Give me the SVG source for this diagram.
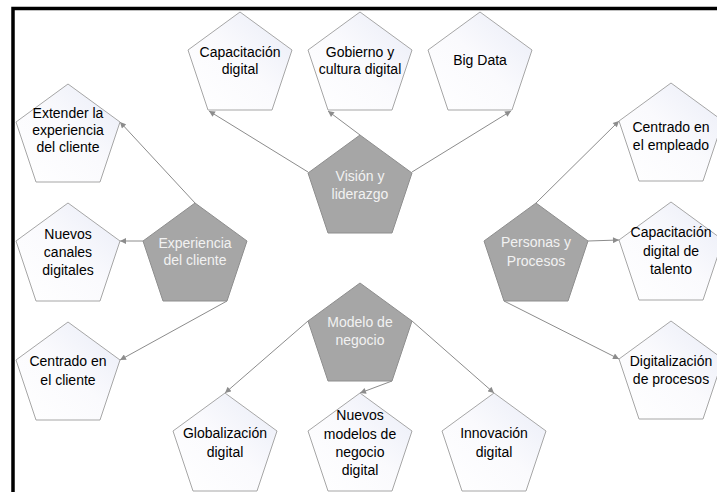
<svg xmlns="http://www.w3.org/2000/svg" xmlns:xlink="http://www.w3.org/1999/xlink" width="717" height="492" viewBox="0 0 717 492">
  <defs>
    <linearGradient id="lightGrad" x1="0" y1="1" x2="1" y2="0">
      <stop offset="0" stop-color="#FFFFFF"/>
      <stop offset="0.5" stop-color="#FAFAFD"/>
      <stop offset="1" stop-color="#E9ECF7"/>
    </linearGradient>
    <polygon id="pent" points="0,0 52,38 32,98 -32,98 -52,38"/>
    <marker id="arrow" viewBox="0 0 10 10" refX="10" refY="5" markerWidth="7" markerHeight="6" markerUnits="userSpaceOnUse" orient="auto">
      <path d="M0,0 L10,5 L0,10 Z" fill="#8C8C8C"/>
    </marker>
    <style>
      .light { fill: url(#lightGrad); stroke: #A6A6A6; stroke-width: 1; }
      .dark { fill: #A6A6A6; stroke: #8E8E8E; stroke-width: 1; }
      .t { font-family: "Liberation Sans", Arial, sans-serif; font-size: 14px; text-anchor: middle; fill: #000000; }
      .td { font-family: "Liberation Sans", Arial, sans-serif; font-size: 14px; text-anchor: middle; fill: #F2F2F2; }
      .conn line { stroke: #8C8C8C; stroke-width: 1; marker-end: url(#arrow); }
      .frame { fill: none; stroke: #000000; stroke-width: 3.5; }
    </style>
  </defs>
  <rect x="0" y="0" width="717" height="492" fill="#FFFFFF"/>
  <path class="frame" d="M13,495 V8.5 H720"/>

  <g id="connectors" class="conn">
    <line x1="308" y1="172" x2="209" y2="111"/>
    <line x1="360" y1="135" x2="328" y2="111"/>
    <line x1="412" y1="172" x2="511" y2="111"/>
    <line x1="195" y1="203" x2="120" y2="122"/>
    <line x1="143" y1="241" x2="120" y2="241"/>
    <line x1="227" y1="301" x2="120" y2="360"/>
    <line x1="308" y1="321" x2="225" y2="393"/>
    <line x1="392" y1="381" x2="360" y2="393"/>
    <line x1="412" y1="321" x2="494" y2="393"/>
    <line x1="536" y1="203" x2="619" y2="121"/>
    <line x1="588" y1="241" x2="619" y2="240"/>
    <line x1="504" y1="301" x2="619" y2="359"/>
  </g>

  <g id="capacitacion-digital">
    <use xlink:href="#pent" href="#pent" x="240" y="12" class="light"/>
    <text class="t" x="240" y="57">Capacitación</text>
    <text class="t" x="240" y="74">digital</text>
  </g>
  <g id="gobierno">
    <use xlink:href="#pent" href="#pent" x="360" y="12" class="light"/>
    <text class="t" x="360" y="57">Gobierno y</text>
    <text class="t" x="360" y="74">cultura digital</text>
  </g>
  <g id="big-data">
    <use xlink:href="#pent" href="#pent" x="480" y="12" class="light"/>
    <text class="t" x="480" y="65">Big Data</text>
  </g>
  <g id="vision">
    <use xlink:href="#pent" href="#pent" x="360" y="135" class="dark"/>
    <text class="td" x="360" y="181">Visión y</text>
    <text class="td" x="360" y="199">liderazgo</text>
  </g>

  <g id="extender">
    <use xlink:href="#pent" href="#pent" x="68" y="84" class="light"/>
    <text class="t" x="68" y="118">Extender la</text>
    <text class="t" x="68" y="135">experiencia</text>
    <text class="t" x="68" y="152">del cliente</text>
  </g>
  <g id="nuevos-canales">
    <use xlink:href="#pent" href="#pent" x="68" y="203" class="light"/>
    <text class="t" x="68" y="239">Nuevos</text>
    <text class="t" x="68" y="257">canales</text>
    <text class="t" x="68" y="275">digitales</text>
  </g>
  <g id="experiencia">
    <use xlink:href="#pent" href="#pent" x="195" y="203" class="dark"/>
    <text class="td" x="195" y="248">Experiencia</text>
    <text class="td" x="195" y="265">del cliente</text>
  </g>
  <g id="centrado-cliente">
    <use xlink:href="#pent" href="#pent" x="68" y="322" class="light"/>
    <text class="t" x="68" y="366">Centrado en</text>
    <text class="t" x="68" y="385">el cliente</text>
  </g>

  <g id="modelo">
    <use xlink:href="#pent" href="#pent" x="360" y="283" class="dark"/>
    <text class="td" x="360" y="327">Modelo de</text>
    <text class="td" x="360" y="345">negocio</text>
  </g>
  <g id="globalizacion">
    <use xlink:href="#pent" href="#pent" x="225" y="393" class="light"/>
    <text class="t" x="225" y="438">Globalización</text>
    <text class="t" x="225" y="457">digital</text>
  </g>
  <g id="nuevos-modelos">
    <use xlink:href="#pent" href="#pent" x="360" y="393" class="light"/>
    <text class="t" x="360" y="420">Nuevos</text>
    <text class="t" x="360" y="439">modelos de</text>
    <text class="t" x="360" y="457">negocio</text>
    <text class="t" x="360" y="475">digital</text>
  </g>
  <g id="innovacion">
    <use xlink:href="#pent" href="#pent" x="494" y="393" class="light"/>
    <text class="t" x="494" y="438">Innovación</text>
    <text class="t" x="494" y="457">digital</text>
  </g>

  <g id="personas">
    <use xlink:href="#pent" href="#pent" x="536" y="203" class="dark"/>
    <text class="td" x="536" y="247">Personas y</text>
    <text class="td" x="536" y="266">Procesos</text>
  </g>
  <g id="centrado-empleado">
    <use xlink:href="#pent" href="#pent" x="671" y="83" class="light"/>
    <text class="t" x="671" y="132">Centrado en</text>
    <text class="t" x="671" y="150">el empleado</text>
  </g>
  <g id="capacitacion-talento">
    <use xlink:href="#pent" href="#pent" x="671" y="202" class="light"/>
    <text class="t" x="671" y="237">Capacitación</text>
    <text class="t" x="671" y="256">digital de</text>
    <text class="t" x="671" y="274">talento</text>
  </g>
  <g id="digitalizacion">
    <use xlink:href="#pent" href="#pent" x="671" y="321" class="light"/>
    <text class="t" x="671" y="366">Digitalización</text>
    <text class="t" x="671" y="384">de procesos</text>
  </g>
</svg>
